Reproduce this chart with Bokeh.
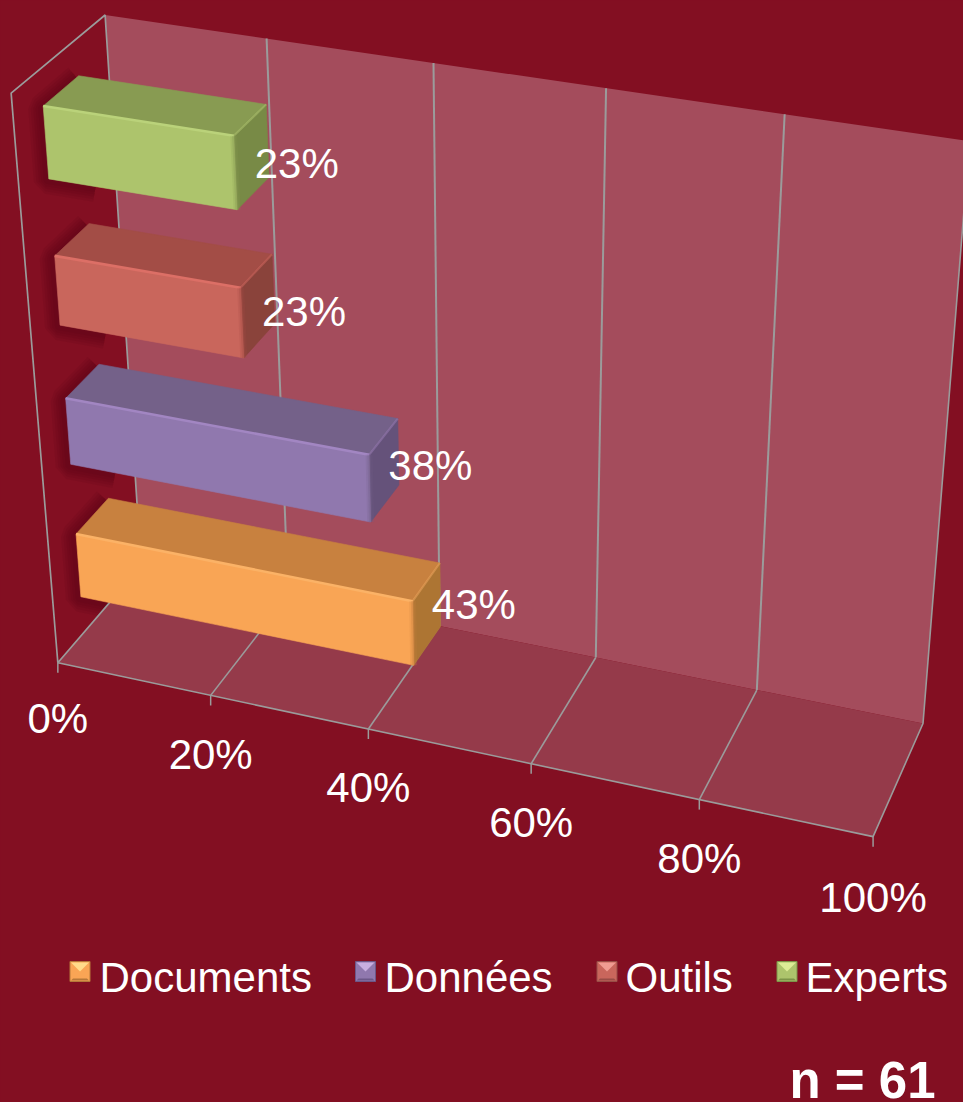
import numpy as np
from bokeh.plotting import figure
from bokeh.models import Range1d
from bokeh.core.properties import value
from bokeh.embed import file_html
from bokeh.resources import INLINE

# ---- data ----
categories = ["Documents", "Données", "Outils", "Experts"]
percent = [43, 38, 23, 23]
percent_labels = ["43%", "38%", "23%", "23%"]
ticks = [0, 20, 40, 60, 80, 100]
tick_labels = ["0%", "20%", "40%", "60%", "80%", "100%"]
note = "n = 61"

# ---- style ----
BG = "#830f22"; WALL = "#a44c5c"; FLOOR = "#953a4a"; GRID = "#9b9b9b"
FONT = value("Liberation Sans")
front_col = ["#f9a555", "#9078ae", "#c9665c", "#adc46c"]
top_col = ["#c8813f", "#746189", "#a34d46", "#889b52"]
side_col = ["#ad7533", "#65527a", "#8a433b", "#788a46"]
hi_col = ["#fbb266", "#a286c2", "#dc6f66", "#bad27a"]
light_col = ["#ffdb8a", "#c8aee0", "#f09c92", "#dcec96"]
dark_col = ["#b5783a", "#6c5888", "#984d46", "#7d9449"]

# ---- projection of the 3-D box (value, depth, height) onto the page ----
anchors = [((0, 0, 0), (57.5, 662)), ((.2, 0, 0), (210.5, 694)), ((.4, 0, 0), (368, 728.3)),
           ((.6, 0, 0), (530.7, 763.3)), ((.8, 0, 0), (699, 799.3)), ((1, 0, 0), (872.3, 837)),
           ((0, 1, 0), (140, 566)), ((.4, 1, 0), (439.3, 626)), ((.6, 1, 0), (595.3, 656.7)),
           ((.8, 1, 0), (756, 689.3)), ((1, 1, 0), (922.7, 722.7)),
           ((0, 0, 1), (10, 93)), ((0, 1, 1), (105, 15)), ((.2, 1, 1), (266, 38)),
           ((.4, 1, 1), (433, 62)), ((.6, 1, 1), (606, 87)), ((.8, 1, 1), (785, 114)),
           ((1, 1, 1), (968, 141))]
A = []
for (X, Y, Z), (u, w) in anchors:
    A.append([X, Y, Z, 1, 0, 0, 0, 0, -u*X, -u*Y, -u*Z, -u])
    A.append([0, 0, 0, 0, X, Y, Z, 1, -w*X, -w*Y, -w*Z, -w])
M = np.linalg.svd(np.array(A, float))[2][-1].reshape(3, 4)

def P(v, d, z):
    h = M @ np.array([v, d, z, 1.0])
    return float(h[0]/h[2]), float(h[1]/h[2])

def poly(*pts):
    q = [P(*t) for t in pts]
    return [a for a, _ in q], [b for _, b in q]

p = figure(width=963, height=1102, x_range=Range1d(0, 963), y_range=Range1d(1102, 0),
           output_backend="svg", toolbar_location=None, min_border=0,
           background_fill_color=BG, border_fill_color=BG, outline_line_color=None)
p.xaxis.visible = False
p.yaxis.visible = False
p.grid.visible = False

D0, D1 = .30, .68
HALF = .06
zc = [(i + .52) / 4 for i in range(4)]

# soft shadows on the background, left of each bar
for i, val in enumerate(percent):
    z0, z1 = zc[i]-HALF, zc[i]+HALF
    xs, ys = poly((0, D1, z1), (0, D0, z1), (0, D0, z0), (.06, D0, z0))
    xs = [x-2 for x in xs]; ys = [y+2 for y in ys]
    for w in (26, 21, 16, 11, 6):
        p.line(xs, ys, line_color="#4a0010", line_alpha=.1, line_width=w)

# walls
xs, ys = poly((0, 1, 0), (1, 1, 0), (1, 1, 1), (0, 1, 1))
p.patch(xs, ys, fill_color=WALL, line_color=None)
xs, ys = poly((0, 0, 0), (1, 0, 0), (1, 1, 0), (0, 1, 0))
p.patch(xs, ys, fill_color=FLOOR, line_color=None)

# grid and frame
for t in ticks:
    v = t/100
    if 0 < t < 100:
        xs, ys = poly((v, 1, 0), (v, 1, 1))
        p.line(xs, ys, line_color=GRID, line_width=2)
        xs, ys = poly((v, 0, 0), (v, 1, 0))
        p.line(xs, ys, line_color=GRID, line_width=1.6)
    x, y = P(v, 0, 0)
    p.line([x, x], [y, y+10], line_color=GRID, line_width=1.5)
xs, ys = poly((0, 1, 0), (0, 1, 1), (0, 0, 1), (0, 0, 0), (0, 1, 0))
p.line(xs, ys, line_color=GRID, line_width=1.7)
xs, ys = poly((0, 0, 0), (1, 0, 0), (1, 1, 0), (1, 1, 1))
p.line(xs, ys, line_color=GRID, line_width=1.6)

# bars
for i in range(3, -1, -1):
    v = percent[i]/100
    z0, z1 = zc[i]-HALF, zc[i]+HALF
    xs, ys = poly((0, D1, z1), (v, D1, z1), (v, D0, z1), (0, D0, z1))
    p.patch(xs, ys, fill_color=top_col[i], line_color=top_col[i], line_width=.6)
    xs, ys = poly((v, D0, z0), (v, D1, z0), (v, D1, z1), (v, D0, z1))
    p.patch(xs, ys, fill_color=side_col[i], line_color=side_col[i], line_width=.6)
    xs, ys = poly((0, D0, z0), (v, D0, z0), (v, D0, z1), (0, D0, z1))
    p.patch(xs, ys, fill_color=front_col[i], line_color=front_col[i], line_width=.6)
    # bevelled edges
    xs, ys = poly((0, D0, z1), (v, D0, z1))
    p.line(xs, ys, line_color=hi_col[i], line_width=2.6)
    xs, ys = poly((v, D0, z1), (v, D1, z1))
    p.line(xs, ys, line_color=hi_col[i], line_width=2, line_alpha=.45)
    xs, ys = poly((v, D0, z0), (v, D0, z1))
    for w, al in ((7, .2), (3.5, .35)):
        p.line(xs, ys, line_color=top_col[i], line_width=w, line_alpha=al)

# value labels
label_dx = [5, 4, 4, 3]
label_dy = [-9, -5, 6, 7]
for i, txt in enumerate(percent_labels):
    x, y = P(percent[i]/100, (D0+D1)/2, zc[i])
    p.text([x+label_dx[i]], [y+label_dy[i]], text=[txt], text_font=FONT, text_font_size="42px",
           text_color="white", text_align="left", text_baseline="middle")

# axis labels
tick_dy = [56, 59, 58, 59, 59, 61]
for t, txt, dy in zip(ticks, tick_labels, tick_dy):
    x, y = P(t/100, 0, 0)
    p.text([x], [y+dy], text=[txt], text_font=FONT, text_font_size="42px",
           text_color="white", text_align="center", text_baseline="middle")

# legend
sw_x = [69.5, 355, 596.5, 776.5]
tx_x = [99, 384, 625, 805]
SW = 20; Y0 = 961
for i, name in enumerate(categories):
    a = sw_x[i]
    p.quad(left=[a], right=[a+SW], top=[Y0], bottom=[Y0+SW], fill_color=front_col[i], line_color=dark_col[i], line_width=1)
    p.patch([a+1, a+SW-1, a+SW/2], [Y0+1, Y0+1, Y0+SW*.5], fill_color=light_col[i], line_color=None)
    p.patch([a+1, a+SW-1, a+SW-3, a+3], [Y0+SW-1, Y0+SW-1, Y0+SW-3, Y0+SW-3], fill_color=dark_col[i], line_color=None)
    p.text([tx_x[i]], [977], text=[name], text_font=FONT, text_font_size="42px",
           text_color="white", text_align="left", text_baseline="middle")

p.text([789], [1080], text=[note], text_font=FONT, text_font_size="51px", text_font_style="bold",
       text_color="white", text_align="left", text_baseline="middle")

html = file_html(p, INLINE)
html = html.replace("<head>", "<head><style>html,body{margin:0;padding:0;overflow:hidden;background:%s}</style>" % BG, 1)
open("out.html", "w").write(html)
